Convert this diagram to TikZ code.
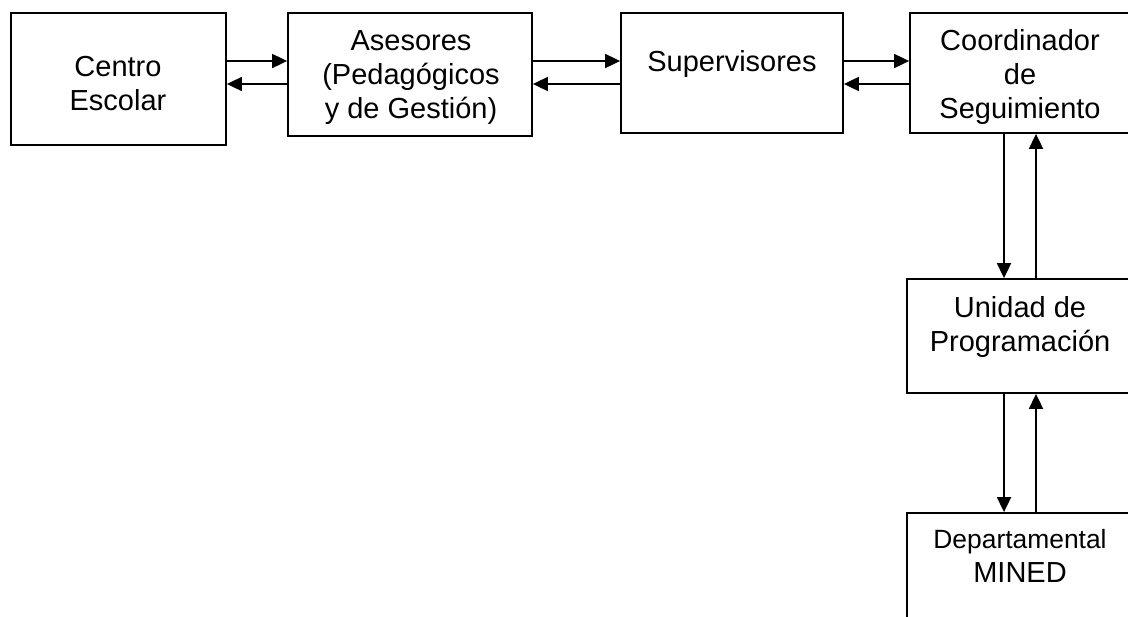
\documentclass[tikz,border=0pt]{standalone}
\usepackage{fontspec}
\setmainfont{Liberation Sans}
\usetikzlibrary{arrows.meta}

\tikzset{
  caja/.style={draw, line width=0.9pt, inner sep=0pt},
  texto/.style={align=center, inner sep=0pt, font=\fontsize{14.5}{17}\selectfont},
  flecha/.style={line width=0.9pt, -{Triangle[length=7.5pt,width=7pt]}}
}

\begin{document}
\begin{tikzpicture}[x=0.5pt,y=-0.5pt]
\clip (0,0) rectangle (1128,616);
\useasboundingbox (0,0) rectangle (1128,616);
% edit here for the boxes
\node[caja, minimum width=107.5pt, minimum height=66pt] (centro) at (118.5,79) {};
\node[caja, minimum width=122pt, minimum height=61.5pt] (asesores) at (410,74.5) {};
\node[caja, minimum width=111pt, minimum height=60pt] (superv) at (732,73) {};
\node[caja, minimum width=110pt, minimum height=60pt] (coord) at (1020,73) {};
\node[caja, minimum width=113pt, minimum height=57pt] (unidad) at (1020,336) {};
\node[caja, minimum width=113pt, minimum height=60pt] (depto) at (1020,573) {};
% edit here for the texts
\node[texto] (tcentro) at (118,84) {Centro\\Escolar};
\node[texto] (tasesores) at (411,78) {Asesores\\(Pedagógicos\\y de Gestión)};
\node[texto] (tsuperv) at (732,64) {Supervisores};
\node[texto] (tcoord) at (1020,77) {Coordinador\\de\\Seguimiento};
\node[texto] (tunidad) at (1020,327) {Unidad de\\Programación};
\node[texto] (tdepto) at (1020,556) {{\fontsize{13.2}{15.5}\selectfont Departamental}\\MINED};
% rows and columns of the arrows
\coordinate (ida) at (0,61);
\coordinate (vuelta) at (0,84);
\coordinate (baja) at (1004,0);
\coordinate (sube) at (1036,0);
\foreach \a/\b in {centro/asesores, asesores/superv, superv/coord}
{
\draw[flecha] (\a.east |- ida) -- (\b.west |- ida);
\draw[flecha] (\b.west |- vuelta) -- (\a.east |- vuelta);
}
\foreach \a/\b in {coord/unidad, unidad/depto}
{
\draw[flecha] (\a.south -| baja) -- (\b.north -| baja);
\draw[flecha] (\b.north -| sube) -- (\a.south -| sube);
}
\end{tikzpicture}
\end{document}
